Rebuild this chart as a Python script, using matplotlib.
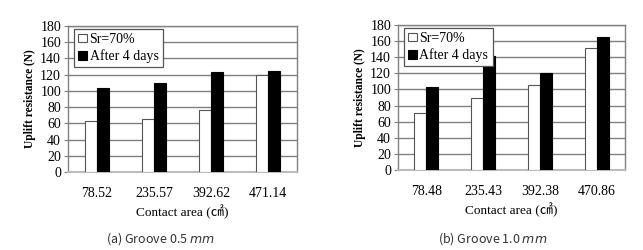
import numpy as np
import matplotlib.pyplot as plt

# contact areas (cm2) and uplift resistance (N)
areas_a = ['78.52', '235.57', '392.62', '471.14']
sr70_a = [63, 65, 77, 119]
after4_a = [104, 110, 123, 125]

areas_b = ['78.48', '235.43', '392.38', '470.86']
sr70_b = [71, 89, 105, 152]
after4_b = [103, 141, 120, 165]

captions = ['(a) Groove 0.5 ', '(b) Groove 1.0 ']

serif = ['Liberation Serif', 'DejaVu Serif']
cjk = ['Noto Sans CJK KR', 'DejaVu Sans']

fig = plt.figure(figsize=(6.43, 2.5), dpi=100)
ax_a = fig.add_axes([0.1058, 0.312, 0.356, 0.584])
ax_b = fig.add_axes([0.619, 0.32, 0.353, 0.58])


def draw(ax, cats, s1, s2):
    x = np.arange(len(cats))
    w = 0.21
    ax.bar(x - w / 2, s1, w, color='white', edgecolor='#555555', lw=0.8,
           label='Sr=70%', zorder=3)
    ax.bar(x + w / 2, s2, w, color='black', edgecolor='black', lw=0.8,
           label='After 4 days', zorder=3)
    ax.set_xlim(-0.5, len(cats) - 0.5)
    ax.set_ylim(0, 180)
    ax.set_yticks(range(0, 181, 20))
    ax.yaxis.grid(True, color='#808080', lw=1.0, zorder=0)
    ax.set_xticks(x)
    ax.set_xticklabels(cats, family=serif, fontsize=10)
    for t in ax.get_yticklabels():
        t.set_family(serif)
        t.set_fontsize(10)
    ax.tick_params(axis='x', length=0, pad=11)
    ax.tick_params(axis='y', length=3, color='#808080', pad=2)
    for s in ax.spines.values():
        s.set_color('#808080')
        s.set_linewidth(1.0)
    ax.spines['bottom'].set_color('#bbbbbb')
    ax.spines['bottom'].set_linewidth(1.5)
    ax.set_ylabel('Uplift resistance (N)', family=serif, fontsize=8.3,
                  fontweight='bold', labelpad=3)
    ax.set_xlabel('Contact area (\u33a0)', family=['Liberation Serif', 'Noto Sans CJK KR'],
                  fontsize=9.5, labelpad=3)
    leg = ax.legend(loc='upper left', bbox_to_anchor=(0.015, 1.0),
                    prop={'family': serif, 'size': 10},
                    handlelength=0.6, handleheight=0.6, handletextpad=0.2,
                    borderpad=0.3, labelspacing=0.25, fancybox=False,
                    framealpha=1, edgecolor='#555555', borderaxespad=0.2)
    leg.get_frame().set_linewidth(0.9)


draw(ax_a, areas_a, sr70_a, after4_a)
draw(ax_b, areas_b, sr70_b, after4_b)

for xc, cap in zip([0.25, 0.767], captions):
    fig.text(xc, 0.046, cap + '$\\it{mm}$', ha='center', va='center',
             family=cjk, fontsize=9, color='#333333')

fig.savefig('out.png', dpi=100)
